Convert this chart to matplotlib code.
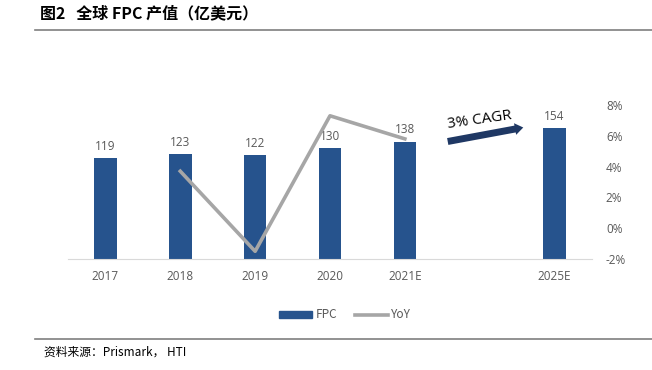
import matplotlib.pyplot as plt
import numpy as np
from matplotlib.lines import Line2D
from matplotlib.patches import Patch

plt.rcParams['font.family'] = ['Noto Sans CJK SC', 'DejaVu Sans']

years = ["2017", "2018", "2019", "2020", "2021E", "", "2025E"]
fpc = [119, 123, 122, 130, 138, None, 154]
yoy_years = ["2018", "2019", "2020", "2021E"]
yoy = [3.7, -1.5, 7.3, 5.8]

BAR = "#26538D"
GRAY = "#A6A6A6"
TXT = "#595959"
LAT = ["Open Sans", "DejaVu Sans"]

fig = plt.figure(figsize=(6.52, 3.70), dpi=100)
ax = fig.add_axes([68 / 652, 1 - 259 / 370, 524 / 652, 154 / 370])
ax2 = ax.twinx()

x = np.arange(len(years))
for i, v in enumerate(fpc):
    if v is None:
        continue
    ax.bar(x[i], v, width=0.3, color=BAR, zorder=2)
    ax.text(x[i], v + 6, str(v), ha="center", va="bottom", fontsize=8.5, color=TXT, family=LAT)
ax.set_ylim(0, 181)
ax.set_xlim(-0.5, len(years) - 0.5)
ax.set_yticks([])
ax.set_xticks(x)
ax.set_xticklabels(years, fontsize=8.5, color=TXT, family=LAT)
ax.tick_params(axis="x", length=0, pad=8)
for s in ["top", "left", "right"]:
    ax.spines[s].set_visible(False)
    ax2.spines[s].set_visible(False)
ax.spines["bottom"].set_color("#D9D9D9")
ax2.spines["bottom"].set_visible(False)

xi = [years.index(y) for y in yoy_years]
ax2.plot(xi, yoy, color=GRAY, lw=2.6, zorder=3)
ax2.set_ylim(-2, 8)
ax2.set_yticks([-2, 0, 2, 4, 6, 8])
ax2.set_yticklabels([f"{t}%" for t in [-2, 0, 2, 4, 6, 8]], fontsize=8.5, color=TXT, family=LAT)
ax2.tick_params(axis="y", length=0, pad=10)

# CAGR arrow
ax.annotate("", xy=(526, 370 - 127), xytext=(445, 370 - 142), xycoords="figure pixels",
            textcoords="figure pixels",
            arrowprops=dict(arrowstyle="simple,head_width=0.85,head_length=0.6,tail_width=0.5",
                            color="#1F3864", lw=0))
fig.text(480 / 652, 1 - 120 / 370, "3% CAGR", ha="center", va="center", fontsize=11,
         rotation=8, color="black", family=LAT)

# legend
handles = [Patch(color=BAR), Line2D([0], [0], color=GRAY, lw=2.6)]
fig.legend(handles, ["FPC", "YoY"], loc="center", bbox_to_anchor=(345 / 652, 1 - 315 / 370),
           ncol=2, frameon=False, fontsize=8.5, labelcolor=TXT, handlelength=2.8,
           handleheight=0.6, columnspacing=1.5, handletextpad=0.3)

# title and footer
fig.text(40 / 652, 1 - 13 / 370, "图2   全球 FPC 产值（亿美元）", ha="left", va="center",
         fontsize=11.5, fontweight="bold", color="black")
fig.add_artist(Line2D([35 / 652, 1], [1 - 30 / 370] * 2, color="#7F7F7F", lw=1.2))
fig.add_artist(Line2D([35 / 652, 1], [1 - 339 / 370] * 2, color="#7F7F7F", lw=1.2))
fig.text(44 / 652, 1 - 352 / 370, "资料来源：Prismark， HTI", ha="left", va="center",
         fontsize=8.5, color="black")

fig.savefig("out.png", dpi=100)
